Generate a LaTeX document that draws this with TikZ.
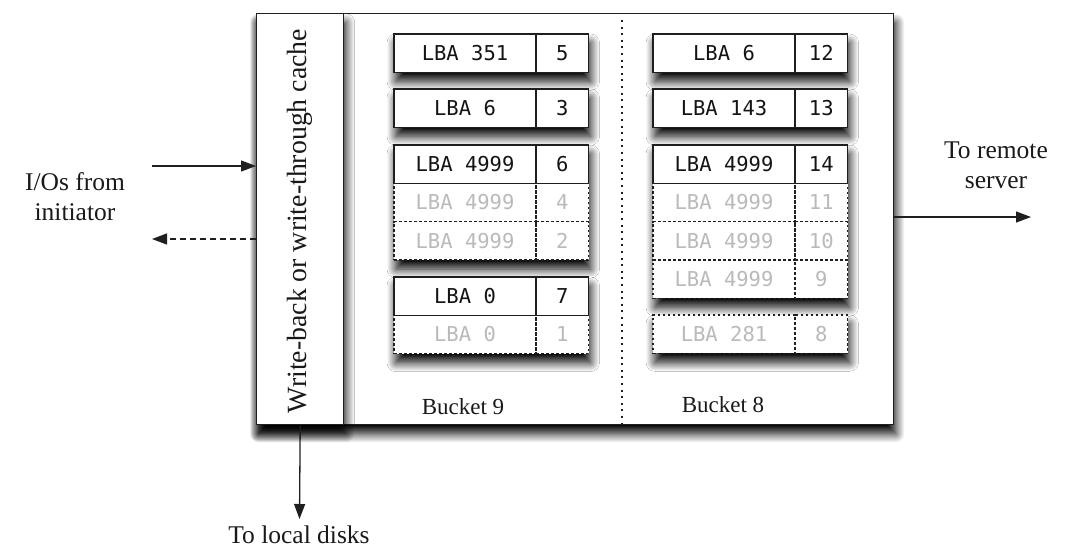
\documentclass[tikz,border=0pt]{standalone}
\usepackage{fontspec}
\setmainfont{Liberation Serif}
\setmonofont{DejaVu Sans Mono}
\usetikzlibrary{arrows.meta,shadows.blur}

% one LBA record: name, x, y, block address, sequence number, extra style
\newcommand\lbarec[6]{%
  \node[lbacell,#6] (#1l) at (#2,#3) {LBA #4};
  \node[cntcell,#6] (#1n) at (#1l.north east) {#5};
}

\tikzset{
  frame/.style={draw=black!88, line width=1.4pt, fill=white, inner sep=0pt, anchor=north west},
  softshadow/.style={blur shadow={shadow xshift=2pt, shadow yshift=-9pt,
      shadow blur radius=9pt, shadow blur steps=16, shadow opacity=100}},
  cell/.style={draw=black!88, line width=1.6pt, minimum height=38.3pt, inner sep=0pt,
      outer sep=0pt, anchor=north west, text=black!92,
      font=\fontsize{20.5}{20.5}\ttfamily},
  lbacell/.style={cell, minimum width=142pt},
  cntcell/.style={cell, minimum width=52.5pt},
  ghost/.style={dash pattern=on 2.6pt off 2.4pt, line width=1.4pt, text=black!27},
  lbl/.style={font=\fontsize{25.5}{30}\selectfont, align=center, text=black!90},
  arr/.style={draw=black!88, line width=1.3pt, -{Triangle[length=15pt,width=11pt]}},
}

\begin{document}
\begin{tikzpicture}[x=1pt,y=-1pt]
\useasboundingbox (0,0) rectangle (1068,550);

% outer enclosure and the cache column
\node[frame, softshadow, minimum width=637pt, minimum height=411pt] (box) at (256,13) {};
\node[frame, softshadow, minimum width=87pt, minimum height=411pt] (cache) at (256,13) {};
\node[rotate=90, font=\fontsize{27.8}{27.8}\selectfont, text=black!90] (cachetxt)
  at (300,221) {Write-back or write-through cache};

% separator between the two buckets
\draw[black!88, line width=1.5pt, dash pattern=on 2pt off 4.6pt] (622,20) -- (622,424);

% shadows under each group of records
\foreach \x/\ya/\yb in {394/34/72.3, 394/89/127.3, 394/145/260, 394/277/353.6,
                        653/34/72.3, 653/89/127.3, 653/145/298.3, 653/315/353.3}{
  \path[fill=white, softshadow] (\x,\ya) rectangle ++(194.5,\yb-\ya);
}

% bucket 9
\lbarec{a1}{394}{34}{351}{5}{}
\lbarec{a2}{394}{89}{6}{3}{}
\lbarec{a4}{394}{183.3}{4999}{4}{ghost}
\lbarec{a5}{394}{221.6}{4999}{2}{ghost}
\lbarec{a3}{394}{145}{4999}{6}{}
\lbarec{a7}{394}{315.3}{0}{1}{ghost}
\lbarec{a6}{394}{277}{0}{7}{}
\node[lbl, font=\fontsize{23}{23}\selectfont] (b9) at (463,407) {Bucket 9};

% bucket 8
\lbarec{c1}{653}{34}{6}{12}{}
\lbarec{c2}{653}{89}{143}{13}{}
\lbarec{c4}{653}{183.3}{4999}{11}{ghost}
\lbarec{c5}{653}{221.6}{4999}{10}{ghost}
\lbarec{c6}{653}{260}{4999}{9}{ghost}
\lbarec{c3}{653}{145}{4999}{14}{}
\lbarec{c7}{653}{315}{281}{8}{ghost}
\node[lbl, font=\fontsize{23}{23}\selectfont] (b8) at (723,405) {Bucket 8};

% external labels
\node[lbl] (init) at (75,197) {I/Os from\\initiator};
\node[lbl] (remote) at (996,165) {To remote\\server};
\node[lbl] (disks) at (299,535) {To local disks};

% connectors
\coordinate (inS) at (152,166);
\coordinate (outE) at (152,239);
\coordinate (remE) at (1031,217);
\coordinate (diskE) at (299.5,519);
\draw[arr] (inS) -- (inS -| cache.west);
\draw[arr, dashed, dash pattern=on 6pt off 4pt] (outE -| cache.west) -- (outE);
\draw[arr] (remE -| box.east) -- (remE);
\draw[arr] (cache.south) -- (diskE);
\end{tikzpicture}
\end{document}
